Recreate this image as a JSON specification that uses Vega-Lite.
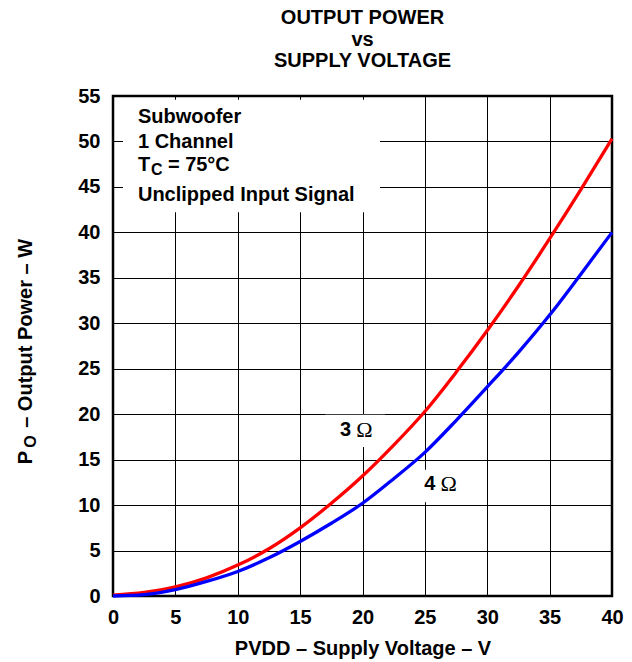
{
  "$schema": "https://vega.github.io/schema/vega-lite/v6.json",
  "width": 499,
  "height": 500,
  "autosize": {"type": "none"},
  "padding": {"left": 113, "top": 96, "right": 20, "bottom": 66},
  "background": "white",
  "config": {
    "font": "Liberation Sans",
    "view": {"stroke": "black", "strokeWidth": 2.5},
    "axis": {
      "grid": true, "gridColor": "black", "gridOpacity": 1, "gridWidth": 1,
      "ticks": false, "domain": false,
      "labelFont": "Liberation Sans", "labelFontSize": 20, "labelFontWeight": "bold", "labelColor": "black",
      "labelFlush": false, "labelOverlap": false,
      "titleFont": "Liberation Sans", "titleFontSize": 20, "titleFontWeight": "bold", "titleColor": "black"
    }
  },
  "title": {
    "text": ["OUTPUT POWER", "vs", "SUPPLY VOLTAGE"],
    "font": "Liberation Sans", "fontSize": 20, "fontWeight": "bold", "color": "black",
    "lineHeight": 21.5, "anchor": "middle", "offset": 15
  },
  "datasets": {
    "curves": [
      {"V": 0, "P": 0.1, "load": "3 Ω"},
      {"V": 2.5, "P": 0.4, "load": "3 Ω"},
      {"V": 5, "P": 1.0, "load": "3 Ω"},
      {"V": 7.5, "P": 2.0, "load": "3 Ω"},
      {"V": 10, "P": 3.4, "load": "3 Ω"},
      {"V": 12.5, "P": 5.2, "load": "3 Ω"},
      {"V": 15, "P": 7.5, "load": "3 Ω"},
      {"V": 17.5, "P": 10.2, "load": "3 Ω"},
      {"V": 20, "P": 13.2, "load": "3 Ω"},
      {"V": 22.5, "P": 16.6, "load": "3 Ω"},
      {"V": 25, "P": 20.3, "load": "3 Ω"},
      {"V": 27.5, "P": 24.6, "load": "3 Ω"},
      {"V": 30, "P": 29.2, "load": "3 Ω"},
      {"V": 32.5, "P": 34.1, "load": "3 Ω"},
      {"V": 35, "P": 39.3, "load": "3 Ω"},
      {"V": 37.5, "P": 44.7, "load": "3 Ω"},
      {"V": 40, "P": 50.3, "load": "3 Ω"},
      {"V": 0, "P": 0, "load": "4 Ω"},
      {"V": 2.5, "P": 0.15, "load": "4 Ω"},
      {"V": 5, "P": 0.7, "load": "4 Ω"},
      {"V": 7.5, "P": 1.6, "load": "4 Ω"},
      {"V": 10, "P": 2.7, "load": "4 Ω"},
      {"V": 12.5, "P": 4.2, "load": "4 Ω"},
      {"V": 15, "P": 6.0, "load": "4 Ω"},
      {"V": 17.5, "P": 8.0, "load": "4 Ω"},
      {"V": 20, "P": 10.2, "load": "4 Ω"},
      {"V": 22.5, "P": 12.9, "load": "4 Ω"},
      {"V": 25, "P": 15.8, "load": "4 Ω"},
      {"V": 27.5, "P": 19.3, "load": "4 Ω"},
      {"V": 30, "P": 23.0, "load": "4 Ω"},
      {"V": 32.5, "P": 26.8, "load": "4 Ω"},
      {"V": 35, "P": 30.9, "load": "4 Ω"},
      {"V": 37.5, "P": 35.4, "load": "4 Ω"},
      {"V": 40, "P": 40.0, "load": "4 Ω"}
    ],
    "boxes": [
      {"V": 0.8, "V2": 21.4, "P": 42.2, "P2": 54.6},
      {"V": 17.0, "V2": 21.8, "P": 16.4, "P2": 19.95},
      {"V": 24.4, "V2": 28.6, "P": 10.3, "P2": 13.9}
    ],
    "notes": [
      {"V": 2.0, "P": 52.0, "label": "Subwoofer"},
      {"V": 2.0, "P": 49.3, "label": "1 Channel"},
      {"V": 2.0, "P": 46.75, "label": "T"},
      {"V": 4.4, "P": 46.75, "label": "= 75°C"},
      {"V": 2.0, "P": 43.5, "label": "Unclipped Input Signal"}
    ],
    "subs": [
      {"V": 3.05, "P": 46.3, "label": "C"}
    ],
    "nums": [
      {"V": 18.65, "P": 18.26, "label": "3"},
      {"V": 25.4, "P": 12.27, "label": "4"}
    ],
    "omegas": [
      {"V": 20.15, "P": 18.26, "label": "Ω"},
      {"V": 26.9, "P": 12.27, "label": "Ω"}
    ],
    "ytitle": [
      {"V": -6.49, "P": 14.5, "label": "P"},
      {"V": -6.49, "P": 18.5, "label": "– Output Power – W"}
    ],
    "ytitlesub": [
      {"V": -6.15, "P": 16.3, "label": "O"}
    ]
  },
  "layer": [
    {
      "data": {"name": "boxes"},
      "mark": {"type": "rect", "fill": "white", "stroke": null},
      "encoding": {
        "x": {"field": "V", "type": "quantitative", "scale": {"domain": [0, 40], "nice": false},
              "axis": {"values": [0, 5, 10, 15, 20, 25, 30, 35, 40], "title": "PVDD – Supply Voltage – V", "labelPadding": 11, "titlePadding": 11}},
        "x2": {"field": "V2"},
        "y": {"field": "P", "type": "quantitative", "scale": {"domain": [0, 55], "nice": false},
              "axis": {"values": [0, 5, 10, 15, 20, 25, 30, 35, 40, 45, 50, 55], "title": null, "labelPadding": 13}},
        "y2": {"field": "P2"}
      }
    },
    {
      "data": {"name": "curves"},
      "mark": {"type": "line", "strokeWidth": 3.3, "interpolate": "monotone"},
      "encoding": {
        "x": {"field": "V", "type": "quantitative"},
        "y": {"field": "P", "type": "quantitative"},
        "color": {"field": "load", "type": "nominal", "scale": {"domain": ["3 Ω", "4 Ω"], "range": ["#ff0000", "#0000ff"]}, "legend": null}
      }
    },
    {
      "data": {"name": "notes"},
      "mark": {"type": "text", "align": "left", "baseline": "alphabetic", "font": "Liberation Sans", "fontSize": 20, "fontWeight": "bold", "color": "black"},
      "encoding": {
        "x": {"field": "V", "type": "quantitative"},
        "y": {"field": "P", "type": "quantitative"},
        "text": {"field": "label"}
      }
    },
    {
      "data": {"name": "subs"},
      "mark": {"type": "text", "align": "left", "baseline": "alphabetic", "font": "Liberation Sans", "fontSize": 16, "fontWeight": "bold", "color": "black"},
      "encoding": {
        "x": {"field": "V", "type": "quantitative"},
        "y": {"field": "P", "type": "quantitative"},
        "text": {"field": "label"}
      }
    },
    {
      "data": {"name": "nums"},
      "mark": {"type": "text", "align": "center", "baseline": "middle", "font": "Liberation Sans", "fontSize": 20, "fontWeight": "bold", "color": "black"},
      "encoding": {
        "x": {"field": "V", "type": "quantitative"},
        "y": {"field": "P", "type": "quantitative"},
        "text": {"field": "label"}
      }
    },
    {
      "data": {"name": "omegas"},
      "mark": {"type": "text", "align": "center", "baseline": "middle", "font": "Liberation Serif", "fontSize": 22, "color": "black"},
      "encoding": {
        "x": {"field": "V", "type": "quantitative"},
        "y": {"field": "P", "type": "quantitative"},
        "text": {"field": "label"}
      }
    },
    {
      "data": {"name": "ytitle"},
      "mark": {"type": "text", "align": "left", "baseline": "alphabetic", "angle": 270, "font": "Liberation Sans", "fontSize": 20, "fontWeight": "bold", "color": "black"},
      "encoding": {
        "x": {"field": "V", "type": "quantitative"},
        "y": {"field": "P", "type": "quantitative"},
        "text": {"field": "label"}
      }
    },
    {
      "data": {"name": "ytitlesub"},
      "mark": {"type": "text", "align": "left", "baseline": "alphabetic", "angle": 270, "font": "Liberation Sans", "fontSize": 16, "fontWeight": "bold", "color": "black"},
      "encoding": {
        "x": {"field": "V", "type": "quantitative"},
        "y": {"field": "P", "type": "quantitative"},
        "text": {"field": "label"}
      }
    }
  ]
}
